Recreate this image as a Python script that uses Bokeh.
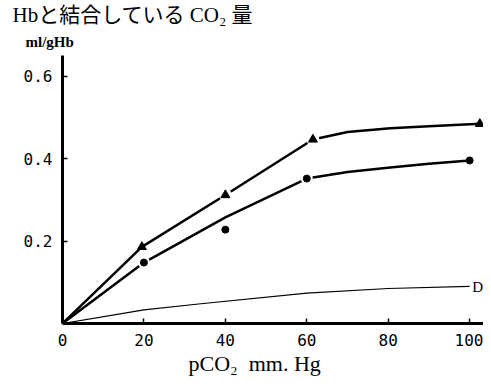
from bokeh.plotting import figure
from bokeh.models import Label, Range1d, FixedTicker, CustomJSTickFormatter, Title
from bokeh.embed import file_html
from bokeh.resources import INLINE

# Data
tri_x = [19.5, 40, 61.5, 102.5]
tri_y = [0.186, 0.312, 0.447, 0.485]
tri_curve_x = [0, 19.5, 40, 61.5, 70, 80.5, 90, 102.5]
tri_curve_y = [0, 0.186, 0.312, 0.447, 0.465, 0.474, 0.479, 0.485]

circ_x = [20, 40, 60, 100]
circ_y = [0.148, 0.228, 0.352, 0.396]
circ_curve_x = [0, 20, 40, 60, 70, 80.5, 90, 100]
circ_curve_y = [0, 0.148, 0.258, 0.352, 0.368, 0.379, 0.388, 0.396]

d_x = [0, 20, 34, 60, 80, 100]
d_y = [0, 0.033, 0.048, 0.074, 0.085, 0.090]

x_ticks = [0, 20, 40, 60, 80, 100]
y_ticks = [0.2, 0.4, 0.6]

title_text = "Hbと結合している CO₂ 量"
unit_text = "ml/gHb"
xlabel_text = "pCO₂\u00a0\u00a0mm. Hg"
d_text = "D"

SERIF = "'Liberation Serif', 'Noto Sans CJK JP', serif"
MONO = "DejaVu Sans Mono"

p = figure(width=483, height=378, output_backend="svg", toolbar_location=None,
           x_range=Range1d(0, 103.4), y_range=Range1d(0, 0.651),
           min_border_left=62, min_border_right=0, min_border_top=55,
           min_border_bottom=55)
p.outline_line_color = None
p.background_fill_color = "white"
p.border_fill_color = "white"
p.xgrid.visible = False
p.ygrid.visible = False

# main title (outermost)
p.title.text = title_text
p.title.text_font = SERIF
p.title.text_font_size = "21px"
p.title.text_font_style = "normal"
p.title.text_color = "black"
p.title.align = "left"
p.title.offset = -50
p.title.standoff = 0

# unit label (closest to the frame)
p.add_layout(Title(text=unit_text, text_font=SERIF, text_font_size="15px",
                   text_font_style="bold", text_color="black", align="left",
                   offset=-37, standoff=11), "above")

for ax in (p.xaxis[0], p.yaxis[0]):
    ax.axis_line_width = 3
    ax.axis_line_color = "black"
    ax.major_tick_in = 5
    ax.major_tick_out = 0
    ax.major_tick_line_width = 1.5
    ax.minor_tick_line_color = None
    ax.major_label_text_font = MONO
    ax.major_label_text_font_size = "16px"
    ax.major_label_text_color = "black"

p.xaxis[0].major_label_standoff = 10
p.yaxis[0].major_label_standoff = 10
p.xaxis[0].ticker = FixedTicker(ticks=x_ticks)
p.yaxis[0].ticker = FixedTicker(ticks=y_ticks)
p.yaxis[0].formatter = CustomJSTickFormatter(code="return tick.toFixed(1);")

p.add_layout(Title(text=xlabel_text, text_font=SERIF, text_font_size="22px",
                   text_font_style="normal", text_color="black", align="left",
                   offset=126, standoff=0), "below")

# curves
p.line(tri_curve_x, tri_curve_y, line_color="black", line_width=2.5)
p.line(circ_curve_x, circ_curve_y, line_color="black", line_width=2.5)
p.line(d_x, d_y, line_color="black", line_width=1.2)

# gaps around markers
p.scatter(tri_x[1:3], tri_y[1:3], marker="circle", size=13, fill_color="white", line_color=None)
p.scatter(circ_x[:1] + circ_x[2:3], circ_y[:1] + circ_y[2:3], marker="circle", size=12,
          fill_color="white", line_color=None)

# markers
p.scatter(tri_x, tri_y, marker="triangle", size=9, fill_color="black", line_color="black")
p.scatter(circ_x, circ_y, marker="circle", size=7, fill_color="black", line_color="black")

p.add_layout(Label(x=103.3, y=0.088, text=d_text, text_font=SERIF,
                   text_font_size="15px", text_color="black",
                   text_align="right", text_baseline="middle"))

open("out.html", "w").write(file_html(p, INLINE))
